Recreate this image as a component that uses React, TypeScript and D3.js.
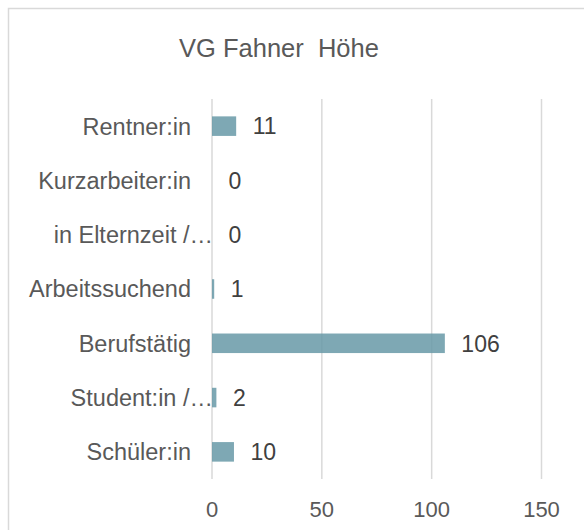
import React from "react";
import * as d3 from "d3";

const title = "VG Fahner  Höhe";
const categories = [
  "Rentner:in",
  "Kurzarbeiter:in",
  "in Elternzeit /…",
  "Arbeitssuchend",
  "Berufstätig",
  "Student:in /…",
  "Schüler:in",
];
const values = [11, 0, 0, 1, 106, 2, 10];
const xTicks = [0, 50, 100, 150];

const W = 584;
const H = 530;

export default function App() {
  const x = d3.scaleLinear().domain([0, 150]).range([212, 541.5]);
  const y = d3
    .scaleBand<string>()
    .domain(categories)
    .range([99, 479])
    .paddingInner(0.64)
    .paddingOuter(0.32);
  const font = "'Liberation Sans', Arial, sans-serif";

  return (
    <svg
      width={W}
      height={H}
      style={{ position: "absolute", left: 0, top: 0, display: "block" }}
      fontFamily={font}
    >
      <rect x={0} y={0} width={W} height={H} fill="#ffffff" />
      <rect
        x={8.5}
        y={8.5}
        width={W + 20}
        height={H + 20}
        fill="#ffffff"
        stroke="#d9d9d9"
        strokeWidth={1.5}
      />
      <text
        x={279}
        y={57}
        textAnchor="middle"
        fontSize={25.5}
        fill="#595959"
        style={{ whiteSpace: "pre" }}
      >
        {title}
      </text>
      {xTicks.map((t) => (
        <line
          key={"g" + t}
          x1={x(t)}
          x2={x(t)}
          y1={99}
          y2={479}
          stroke="#d9d9d9"
          strokeWidth={1.5}
        />
      ))}
      {categories.map((c, i) => (
        <g key={c}>
          <rect
            x={x(0)}
            y={y(c)!}
            width={x(values[i]) - x(0)}
            height={y.bandwidth()}
            fill="rgb(103,153,167)"
            fillOpacity={0.85}
          />
          <text
            x={c.endsWith("…") ? 213 : 191}
            y={y(c)! + y.bandwidth() / 2}
            dy="0.36em"
            textAnchor="end"
            fontSize={23.5}
            fill="#595959"
          >
            {c}
          </text>
          <text
            x={x(values[i]) + 16.5}
            y={y(c)! + y.bandwidth() / 2}
            dy="0.36em"
            textAnchor="start"
            fontSize={23}
            fill="#404040"
          >
            {values[i]}
          </text>
        </g>
      ))}
      {xTicks.map((t) => (
        <text
          key={"t" + t}
          x={x(t)}
          y={517}
          textAnchor="middle"
          fontSize={22}
          fill="#595959"
        >
          {t}
        </text>
      ))}
    </svg>
  );
}
